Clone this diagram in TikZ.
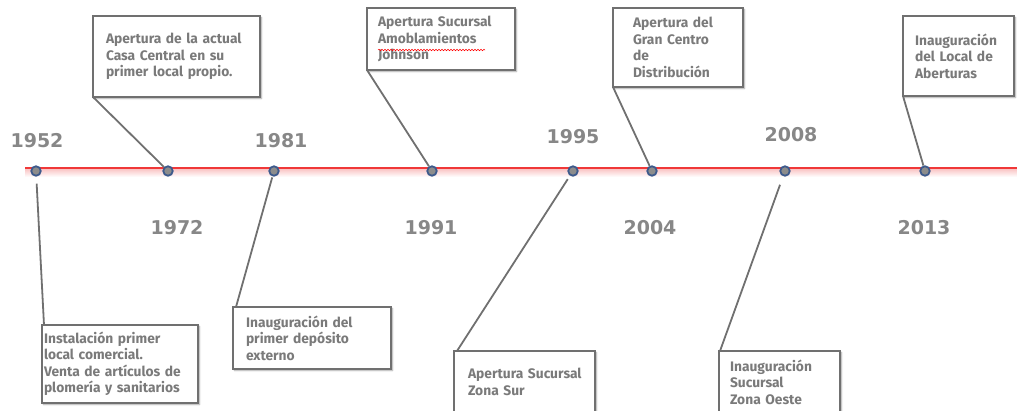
\documentclass[tikz,border=0pt]{standalone}
\usepackage{fontspec}
\setmainfont{Fira Sans}
\newfontfamily\yearfont{DejaVu Sans}
\usetikzlibrary{shadows.blur,decorations.pathmorphing}
\definecolor{txtgray}{HTML}{7A7A7A}
\definecolor{boxgray}{HTML}{707070}
\definecolor{dotblue}{HTML}{3D5A8C}
\definecolor{dotfill}{HTML}{8C8C8C}
\definecolor{tlred}{HTML}{F03838}
\definecolor{tlpink}{HTML}{F9BEBE}
\begin{document}
\begin{tikzpicture}[x=1pt,y=-1pt,
  evbox/.style={draw=boxgray, line width=1.8pt, fill=white, anchor=north west,
    outer sep=0pt, inner ysep=0pt, align=left, text=txtgray,
    font=\fontsize{13.8}{16.5}\selectfont\bfseries,
    blur shadow={shadow xshift=1.5pt, shadow yshift=-1.5pt, shadow blur radius=1.5pt, shadow opacity=35}},
  conn/.style={draw=boxgray, line width=1.8pt},
  yearlbl/.style={text=txtgray!90, font=\yearfont\fontsize{19}{22}\selectfont\bfseries, inner sep=0pt},
  evdot/.style={circle, draw=dotblue, fill=dotfill, line width=1.8pt, minimum size=9.5pt, inner sep=0pt}]
\useasboundingbox (0,0) rectangle (1017,410);
% timeline
\coordinate (tlstart) at (25,168);
\coordinate (tlend) at (1017,177);
\shade[top color=tlpink, bottom color=white] (tlstart) rectangle (tlend);
\draw[tlred, line width=1.2pt] (tlstart) -- (tlstart -| tlend);
% boxes
\node[evbox, text width=141pt, inner xsep=13pt, minimum height=81pt] (b72) at (93,16)
  {Apertura de la actual\\ Casa Central en su\\ primer local propio.};
\node[evbox, text width=126pt, inner xsep=11pt, minimum height=62pt] (b91) at (367,8)
  {Apertura~Sucursal\\ Amoblamientos\\ Johnson};
\node[evbox, text width=90pt, inner xsep=20pt, minimum height=79pt] (b04) at (613,8)
  {Apertura del\\ Gran Centro\\ de\\ Distribución};
\node[evbox, text width=87pt, inner xsep=12pt, minimum height=80pt] (b13) at (903,16)
  {Inauguración\\ del Local de\\ Aberturas};
\node[evbox, text width=152pt, inner xsep=2pt, minimum height=78pt] (b52) at (42,325)
  {Instalación primer\\ local comercial.\\ Venta~de~artículos~de\\ plomería~y~sanitarios};
\node[evbox, text width=132pt, inner xsep=13pt, minimum height=62pt] (b81) at (233,307)
  {Inauguración~del\\ primer depósito\\ externo};
\node[evbox, text width=113pt, inner xsep=14pt, minimum height=62pt] (b95) at (454,351)
  {\hbox{Apertura Sucursal}\\ Zona Sur};
\node[evbox, text width=99pt, inner xsep=11pt, minimum height=62pt] (b08) at (719,351)
  {Inauguración\\ Sucursal\\ Zona Oeste};
% spell-check underline
\draw[red, line width=0.5pt, decorate, decoration={snake, segment length=3pt, amplitude=0.8pt}]
  ([shift={(11pt,-42pt)}]b91.north west) -- ++(107,0);
% dots
\node[evdot] (d52) at (36,171) {};
\node[evdot] (d72) at (168,171) {};
\node[evdot] (d81) at (274,171) {};
\node[evdot] (d91) at (432,171) {};
\node[evdot] (d95) at (573,171) {};
\node[evdot] (d04) at (652,171) {};
\node[evdot] (d08) at (785,171) {};
\node[evdot] (d13) at (925,171) {};
% connectors
\draw[conn] (b72.south west) -- (d72);
\draw[conn] (b91.south west) -- (d91);
\draw[conn] (b04.south west) -- (d04);
\draw[conn] (b13.south west) -- (d13);
\draw[conn, shorten <=7pt] (d52) -- ([xshift=2pt]b52.north west);
\draw[conn, shorten <=1pt] (d81) -- ([xshift=3pt]b81.north west);
\draw[conn, shorten <=4pt] (d95) -- ([xshift=3pt]b95.north west);
\draw[conn, shorten <=9pt] (d08) -- ([xshift=1pt]b08.north west);
% years
\node[yearlbl] (y52) at (37,141) {1952};
\node[yearlbl] (y81) at (281,141) {1981};
\node[yearlbl] (y95) at (573,137) {1995};
\node[yearlbl] (y08) at (791,135) {2008};
\node[yearlbl] (y72) at (177,228) {1972};
\node[yearlbl] (y91) at (431,228) {1991};
\node[yearlbl] (y04) at (650,228) {2004};
\node[yearlbl] (y13) at (924,228) {2013};
\end{tikzpicture}
\end{document}
